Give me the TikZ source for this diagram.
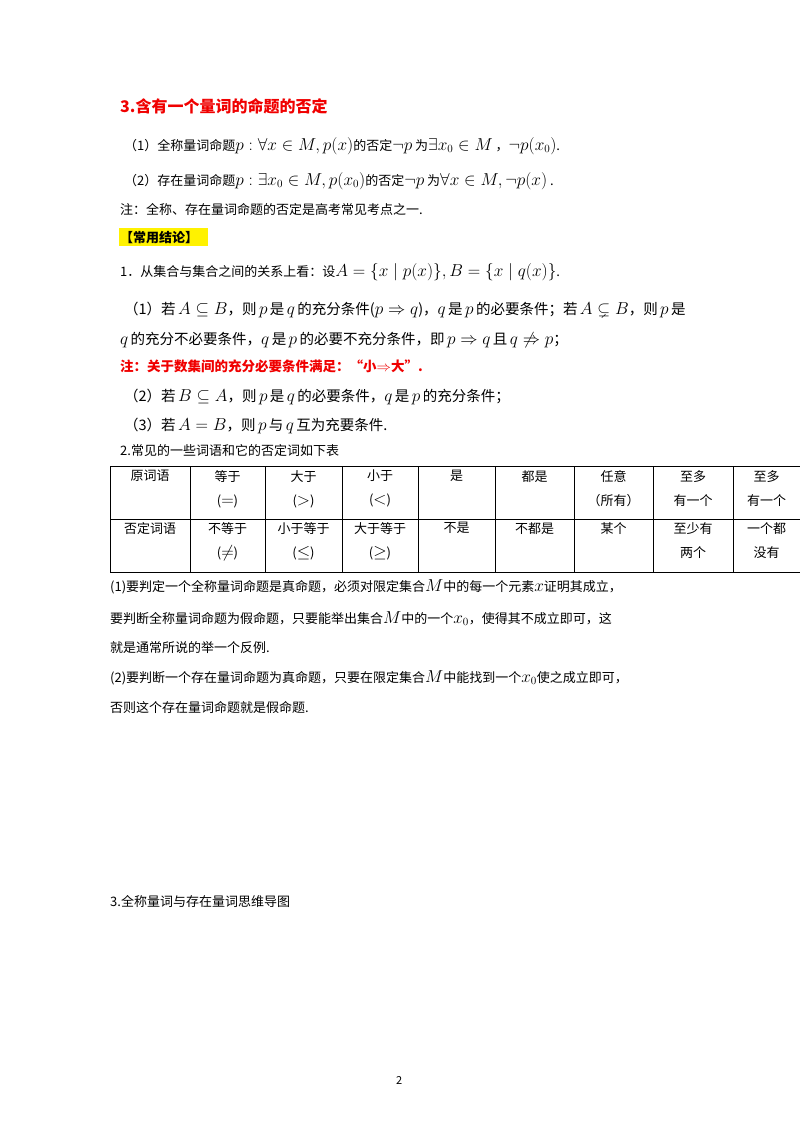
\documentclass[tikz,border=0pt]{standalone}
\usepackage{amssymb}
\usepackage{fontspec}
\setmainfont{Noto Sans CJK SC}
\DeclareMathSizes{13}{16.5}{11}{9}
\DeclareMathSizes{14.5}{16.5}{11}{9}
\begin{document}
\begin{tikzpicture}[x=1pt,y=-1pt,
  txt/.style={anchor=base west,inner sep=0pt,font=\fontsize{13}{15}\selectfont},
  big/.style={txt,font=\fontsize{14.5}{16}\selectfont},
  red/.style={txt,text={rgb,255:red,240;green,0;blue,0},font=\fontsize{13.5}{15}\selectfont\bfseries},
  cell/.style={anchor=north,inner sep=0pt,align=center,font=\fontsize{13}{24}\selectfont}]
\useasboundingbox[fill=white] (0,0) rectangle (800,1132);
\node[red,font=\fontsize{16}{18}\selectfont\bfseries] (t1) at (120,112) {3.含有一个量词的命题的否定};
\node[txt] (l1) at (124,150) {（1）全称量词命题$p:\forall x\in M,p(x)$的否定$\neg p$ 为$\exists x_0\in M$ ，$\neg p(x_0)$.};
\node[txt] (l2) at (124,185) {（2）存在量词命题$p:\exists x_0\in M,p(x_0)$的否定$\neg p$ 为$\forall x\in M,\neg p(x)$ .};
\node[txt] (l3) at (120,214) {注：全称、存在量词命题的否定是高考常见考点之一.};
\fill[yellow] (119,228) rectangle (208,246);
\node[txt,font=\fontsize{13}{15}\selectfont\bfseries] (l4) at (120,242) {【常用结论】};
\node[txt] (l5) at (120,276) {1．从集合与集合之间的关系上看：设$A=\{x\mid p(x)\},B=\{x\mid q(x)\}$.};
\node[big] (l6) at (124,314) {（1）若\,$A\subseteq B$，则\,$p$\,是\,$q$\,的充分条件($p\Rightarrow q$)，$q$\,是\,$p$\,的必要条件；若\,$A\subsetneq B$，则\,$p$\,是};
\node[big] (l7) at (120,344) {$q$\,的充分不必要条件，$q$\,是\,$p$\,的必要不充分条件，即\,$p\Rightarrow q$\,且\,$q\not\Rightarrow p$；};
\node[red] (l8) at (120,371) {注：关于数集间的充分必要条件满足：“小$\Rightarrow$大”.};
\node[big] (l9) at (124,401) {（2）若\,$B\subseteq A$，则\,$p$\,是\,$q$\,的必要条件，$q$\,是\,$p$\,的充分条件；};
\node[big] (l10) at (124,430) {（3）若\,$A=B$，则\,$p$\,与\,$q$\,互为充要条件.};
\node[txt] (l11) at (120,455) {2.常见的一些词语和它的否定词如下表};
\draw[line width=0.8pt] (110,466) rectangle (800,572);
\draw[line width=0.8pt] (110,519) -- (800,519);
\foreach \x in {190,265,342,418,495,574,653,733} \draw[line width=0.8pt] (\x,466) -- (\x,572);
\foreach \a/\b/\t in {110/190/原词语,190/265/等于\\($=$),265/342/大于\\($>$),342/418/小于\\($<$),418/495/是,495/574/都是,574/653/任意\\（所有）,653/733/至多\\有一个,733/800/至多\\有一个}
  \node[cell] (c\a) at ({(\a+\b)/2},470) {\t};
\foreach \a/\b/\t in {110/190/否定词语,190/265/不等于\\($\neq$),265/342/小于等于\\($\leq$),342/418/大于等于\\($\geq$),418/495/不是,495/574/不都是,574/653/某个,653/733/至少有\\两个,733/800/一个都\\没有}
  \node[cell] (d\a) at ({(\a+\b)/2},522) {\t};
\node[txt] (m1) at (110,591) {(1)要判定一个全称量词命题是真命题，必须对限定集合$M$中的每一个元素$x$证明其成立，};
\node[txt] (m2) at (110,623) {要判断全称量词命题为假命题，只要能举出集合$M$中的一个$x_0$，使得其不成立即可，这};
\node[txt] (m3) at (110,652) {就是通常所说的举一个反例.};
\node[txt] (m4) at (110,682) {(2)要判断一个存在量词命题为真命题，只要在限定集合$M$中能找到一个$x_0$使之成立即可，};
\node[txt] (m5) at (110,712) {否则这个存在量词命题就是假命题.};
\node[txt] (m6) at (110,906) {3.全称量词与存在量词思维导图};
\node[txt,font=\fontsize{11}{13}\selectfont] (pg) at (396,1084) {2};
\end{tikzpicture}
\end{document}
